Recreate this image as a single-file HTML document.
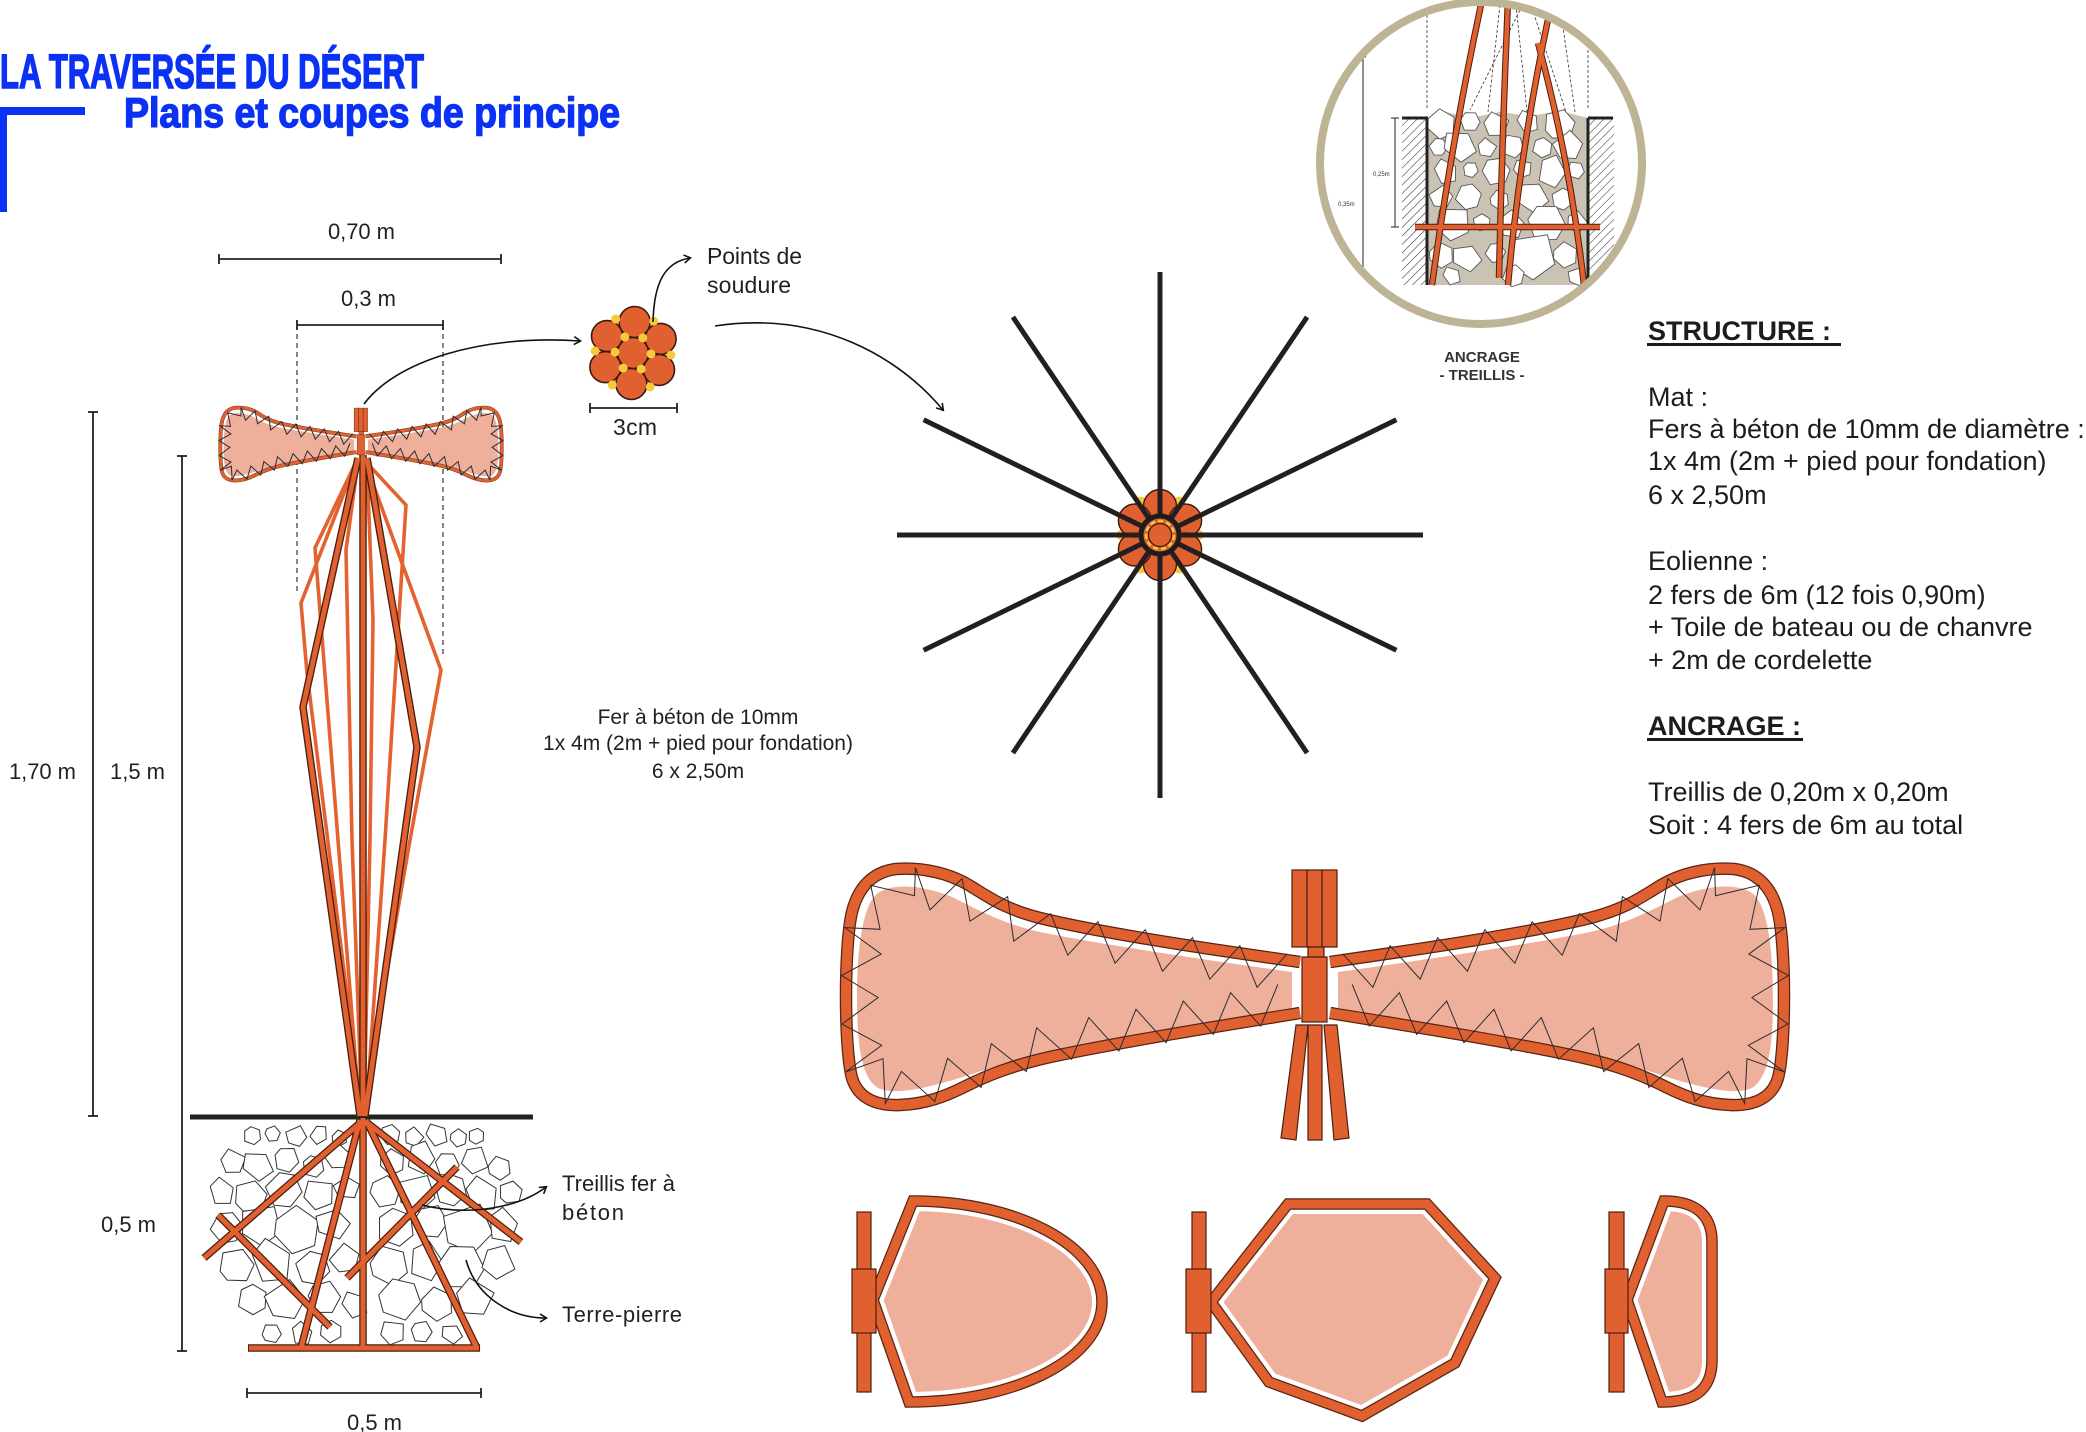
<!DOCTYPE html>
<html><head><meta charset="utf-8">
<style>
html,body{margin:0;padding:0;background:#fff;}
svg{display:block;}
text{font-family:"Liberation Sans",Arial,sans-serif;}
</style></head><body>
<svg width="2086" height="1432" viewBox="0 0 2086 1432" xmlns="http://www.w3.org/2000/svg">
<defs>
<marker id="ah" markerWidth="12" markerHeight="12" refX="7" refY="4.5" orient="auto" markerUnits="userSpaceOnUse">
<path d="M1,0.5 L7.5,4.5 L1,8.5" fill="none" stroke="#111" stroke-width="1.6"/>
</marker>
<pattern id="hatch" width="6" height="6" patternUnits="userSpaceOnUse" patternTransform="rotate(45)">
<line x1="0" y1="0" x2="0" y2="6" stroke="#333" stroke-width="1.1"/>
</pattern>
<clipPath id="cc"><circle cx="1481" cy="163" r="158"/></clipPath>
<path id="s1" d="M-9,-4 L-3,-10 L7,-8 L10,2 L4,9 L-7,7 Z" vector-effect="non-scaling-stroke"/>
<path id="s2" d="M-10,0 L-5,-9 L6,-7 L9,3 L2,10 L-8,6 Z" vector-effect="non-scaling-stroke"/>
<path id="s3" d="M-8,-8 L8,-9 L10,4 L0,10 L-9,3 Z" vector-effect="non-scaling-stroke"/>
<path id="s4" d="M-6,-10 L7,-6 L9,6 L-2,10 L-10,-1 Z" vector-effect="non-scaling-stroke"/>
</defs>
<rect width="2086" height="1432" fill="#fff"/>

<!-- TITLE -->
<text x="0" y="88" font-family="Liberation Sans Narrow, Liberation Sans, sans-serif" font-weight="bold" font-size="48" fill="#0b31f5" stroke="#0b31f5" stroke-width="1.6" textLength="424" lengthAdjust="spacingAndGlyphs">LA TRAVERSÉE DU DÉSERT</text>
<text x="124" y="127" font-family="Liberation Sans Narrow, Liberation Sans, sans-serif" font-weight="bold" font-size="42" fill="#0b31f5" stroke="#0b31f5" stroke-width="1.4" textLength="496" lengthAdjust="spacingAndGlyphs">Plans et coupes de principe</text>
<rect x="0" y="107" width="85" height="8" fill="#0b31f5"/>
<rect x="0" y="107" width="7" height="105" fill="#0b31f5"/>

<!-- DIMENSIONS -->
<g stroke="#222" stroke-width="1.8" fill="none">
<line x1="219" y1="259" x2="501" y2="259"/><line x1="219" y1="254" x2="219" y2="264"/><line x1="501" y1="254" x2="501" y2="264"/>
<line x1="297" y1="325" x2="443" y2="325"/><line x1="297" y1="320" x2="297" y2="330"/><line x1="443" y1="320" x2="443" y2="330"/>
<line x1="93" y1="412" x2="93" y2="1116"/><line x1="88" y1="412" x2="98" y2="412"/><line x1="88" y1="1116" x2="98" y2="1116"/>
<line x1="182" y1="456" x2="182" y2="1351"/><line x1="177" y1="456" x2="187" y2="456"/><line x1="177" y1="1351" x2="187" y2="1351"/>
<line x1="247" y1="1393" x2="481" y2="1393"/><line x1="247" y1="1388" x2="247" y2="1398"/><line x1="481" y1="1388" x2="481" y2="1398"/>
<line x1="590" y1="408" x2="677" y2="408"/><line x1="590" y1="403" x2="590" y2="413"/><line x1="677" y1="403" x2="677" y2="413"/>
</g>
<g stroke="#222" stroke-width="1.1" stroke-dasharray="5,4">
<line x1="297" y1="325" x2="297" y2="593"/>
<line x1="443" y1="325" x2="443" y2="657"/>
</g>
<g fill="#231f20" font-size="22">
<text x="328" y="239" textLength="67">0,70 m</text>
<text x="341" y="306" textLength="55">0,3 m</text>
<text x="9" y="779" textLength="67">1,70 m</text>
<text x="110" y="779" textLength="55">1,5 m</text>
<text x="101" y="1232" textLength="55">0,5 m</text>
<text x="347" y="1430" textLength="55">0,5 m</text>
<text x="613" y="435" font-size="23" textLength="44">3cm</text>
<text x="707" y="264" font-size="23" textLength="95">Points de</text>
<text x="707" y="293" font-size="23" textLength="84">soudure</text>
<text x="562" y="1191" textLength="113">Treillis fer à</text>
<text x="562" y="1220" textLength="62">béton</text>
<text x="562" y="1322" textLength="120">Terre-pierre</text>
</g>
<g fill="#231f20" font-size="21" text-anchor="middle">
<text x="698" y="724">Fer à béton de 10mm</text>
<text x="698" y="750">1x 4m (2m + pied pour fondation)</text>
<text x="698" y="778">6 x 2,50m</text>
</g>

<!-- BASE stones -->
<g fill="#fff" stroke="#333" stroke-width="1">
<use href="#s1" transform="translate(252,1136) rotate(10) scale(0.9)"/>
<use href="#s2" transform="translate(273,1134) rotate(40) scale(0.8)"/>
<use href="#s3" transform="translate(296,1137) rotate(-20) scale(1.0)"/>
<use href="#s4" transform="translate(319,1135) rotate(70) scale(0.9)"/>
<use href="#s2" transform="translate(340,1138) rotate(15) scale(0.8)"/>
<use href="#s1" transform="translate(390,1135) rotate(-30) scale(1.0)"/>
<use href="#s3" transform="translate(413,1137) rotate(50) scale(0.9)"/>
<use href="#s4" transform="translate(437,1135) rotate(0) scale(1.1)"/>
<use href="#s2" transform="translate(459,1138) rotate(25) scale(0.9)"/>
<use href="#s1" transform="translate(476,1136) rotate(80) scale(0.8)"/>
<use href="#s3" transform="translate(232,1162) rotate(30) scale(1.2)"/>
<use href="#s4" transform="translate(258,1166) rotate(-15) scale(1.5)"/>
<use href="#s2" transform="translate(287,1160) rotate(60) scale(1.3)"/>
<use href="#s1" transform="translate(313,1167) rotate(5) scale(1.1)"/>
<use href="#s3" transform="translate(338,1158) rotate(-40) scale(1.2)"/>
<use href="#s2" transform="translate(393,1162) rotate(20) scale(1.3)"/>
<use href="#s4" transform="translate(421,1158) rotate(45) scale(1.5)"/>
<use href="#s1" transform="translate(447,1165) rotate(-10) scale(1.2)"/>
<use href="#s3" transform="translate(474,1160) rotate(75) scale(1.3)"/>
<use href="#s2" transform="translate(500,1168) rotate(10) scale(1.2)"/>
<use href="#s4" transform="translate(222,1192) rotate(20) scale(1.3)"/>
<use href="#s2" transform="translate(251,1196) rotate(-25) scale(1.7)"/>
<use href="#s1" transform="translate(283,1190) rotate(55) scale(1.8)"/>
<use href="#s3" transform="translate(318,1195) rotate(10) scale(1.5)"/>
<use href="#s4" transform="translate(347,1188) rotate(-50) scale(1.2)"/>
<use href="#s2" transform="translate(386,1192) rotate(35) scale(1.6)"/>
<use href="#s3" transform="translate(416,1194) rotate(-10) scale(1.8)"/>
<use href="#s1" transform="translate(450,1190) rotate(65) scale(1.6)"/>
<use href="#s4" transform="translate(482,1195) rotate(15) scale(1.7)"/>
<use href="#s2" transform="translate(511,1192) rotate(-30) scale(1.2)"/>
<use href="#s1" transform="translate(226,1228) rotate(40) scale(1.6)"/>
<use href="#s3" transform="translate(260,1226) rotate(-5) scale(2.0)"/>
<use href="#s2" transform="translate(298,1230) rotate(25) scale(2.4)"/>
<use href="#s4" transform="translate(333,1224) rotate(-35) scale(1.6)"/>
<use href="#s1" transform="translate(395,1228) rotate(10) scale(1.9)"/>
<use href="#s2" transform="translate(432,1222) rotate(50) scale(1.7)"/>
<use href="#s3" transform="translate(467,1230) rotate(-15) scale(2.4)"/>
<use href="#s4" transform="translate(503,1226) rotate(30) scale(1.6)"/>
<use href="#s2" transform="translate(237,1265) rotate(-20) scale(1.8)"/>
<use href="#s4" transform="translate(272,1262) rotate(15) scale(2.1)"/>
<use href="#s1" transform="translate(312,1268) rotate(60) scale(1.7)"/>
<use href="#s3" transform="translate(345,1260) rotate(-45) scale(1.4)"/>
<use href="#s2" transform="translate(390,1265) rotate(5) scale(2.0)"/>
<use href="#s4" transform="translate(426,1262) rotate(40) scale(1.8)"/>
<use href="#s1" transform="translate(461,1268) rotate(-10) scale(2.3)"/>
<use href="#s3" transform="translate(497,1262) rotate(70) scale(1.6)"/>
<use href="#s1" transform="translate(252,1300) rotate(20) scale(1.5)"/>
<use href="#s3" transform="translate(285,1302) rotate(-30) scale(1.9)"/>
<use href="#s2" transform="translate(325,1298) rotate(45) scale(1.7)"/>
<use href="#s4" transform="translate(355,1305) rotate(0) scale(1.3)"/>
<use href="#s1" transform="translate(400,1300) rotate(-60) scale(2.1)"/>
<use href="#s2" transform="translate(438,1304) rotate(15) scale(1.7)"/>
<use href="#s3" transform="translate(473,1298) rotate(35) scale(1.8)"/>
<use href="#s2" transform="translate(272,1333) rotate(-10) scale(1.0)"/>
<use href="#s4" transform="translate(302,1334) rotate(25) scale(1.1)"/>
<use href="#s1" transform="translate(331,1332) rotate(-40) scale(1.1)"/>
<use href="#s3" transform="translate(392,1333) rotate(10) scale(1.2)"/>
<use href="#s2" transform="translate(422,1332) rotate(50) scale(1.1)"/>
<use href="#s4" transform="translate(452,1334) rotate(-20) scale(1.0)"/>
</g>
<!-- ground -->
<line x1="190" y1="1117" x2="533" y2="1117" stroke="#222" stroke-width="5"/>

<!-- BASE rods -->
<g fill="none" stroke-linecap="butt" stroke-linejoin="miter">
<g stroke="#4a1f10" stroke-width="7.5">
<path d="M363,1118 L363,1350"/><path d="M360,1120 L301,1348"/><path d="M366,1120 L477,1348"/>
<path d="M360,1123 L204,1258"/><path d="M366,1122 L521,1242"/>
<path d="M218,1215 L330,1327"/><path d="M457,1167 L347,1278"/>
<path d="M248,1348 L480,1348"/>
</g>
<g stroke="#e0602f" stroke-width="5">
<path d="M363,1118 L363,1350"/><path d="M360,1120 L301,1348"/><path d="M366,1120 L477,1348"/>
<path d="M360,1123 L204,1258"/><path d="M366,1122 L521,1242"/>
<path d="M218,1215 L330,1327"/><path d="M457,1167 L347,1278"/>
<path d="M249,1348 L479,1348"/>
</g>
</g>

<!-- MAST rods -->
<g fill="none" stroke-linejoin="miter">
<g stroke="#e4622f" stroke-width="3.6">
<path d="M356,462 L315,548 L338,840 L360,1116"/>
<path d="M353,470 L301,603 L307,673 L362,1116"/>
<path d="M358,462 L346,550 L352,840 L362,1116"/>
<path d="M366,462 L406,505 L385,840 L366,1116"/>
<path d="M368,470 L441,670 L410,840 L362,1116"/>
<path d="M367,465 L373,620 L370,840 L364,1116"/>
</g>
<g stroke="#4a1f10" stroke-width="7.5">
<path d="M363,455 L363,1116"/>
<path d="M358,458 L303,707 L360,1116"/>
<path d="M367,458 L417,747 L365,1116"/>
</g>
<g stroke="#e0602f" stroke-width="4.8">
<path d="M363,455 L363,1116"/>
<path d="M358,458 L303,707 L360,1116"/>
<path d="M367,458 L417,747 L365,1116"/>
</g>
</g>

<!-- BOWTIE (big) -->
<g id="bow">
 <g id="lobeL">
  <path d="M1292,972 C1220,962 1110,946 1040,932 C1000,923 975,908 952,897 C925,886 895,882 878,893 C862,905 857,950 857,1000 C857,1048 862,1078 878,1088 C895,1096 930,1088 975,1073 C1030,1056 1120,1040 1205,1024 C1245,1017 1272,1011 1292,1008 Z" fill="#eeb09b"/>
  <path d="M1300,962 C1230,952 1110,935 1040,918 C1005,909 990,898 972,887 C950,873 922,867 896,869 C872,872 858,888 852,912 C844,945 844,1048 852,1078 C858,1098 876,1106 900,1105 C926,1104 946,1096 964,1087 C986,1076 1010,1066 1050,1057 C1120,1042 1220,1026 1300,1013" fill="none" stroke="#5a2412" stroke-width="12.5"/>
  <path d="M1300,962 C1230,952 1110,935 1040,918 C1005,909 990,898 972,887 C950,873 922,867 896,869 C872,872 858,888 852,912 C844,945 844,1048 852,1078 C858,1098 876,1106 900,1105 C926,1104 946,1096 964,1087 C986,1076 1010,1066 1050,1057 C1120,1042 1220,1026 1300,1013" fill="none" stroke="#e0602f" stroke-width="10"/>
  <polyline fill="none" stroke="#2b2b33" stroke-width="1" vector-effect="non-scaling-stroke" points="1287.2,953.8 1257.1,987.3 1239.9,945.7 1209.8,979.2 1192.5,937.7 1162.5,971.2 1145.2,929.7 1115.1,963.2 1097.9,921.7 1067.8,955.2 1050.6,913.7 1013.7,941.2 1007.6,896.6 970,921.2 962.1,878.5 930,909.9 915.4,867.5 914.5,895.7 870.7,885.3 880.1,929.3 844.9,927.6 881.2,954.1 841.5,975.5 878.1,997.5 842,1024.1 881.7,1045.3 845.5,1072 883,1058.7 885.3,1103.6 901.4,1071.4 934.8,1101.5 947.6,1058.3 981.1,1087.4 991.3,1043.6 1026.4,1071.6 1036.6,1027.8 1071.6,1059.3 1088.7,1017.6 1118.9,1051 1136,1009.3 1166.1,1042.7 1183.3,1001 1213.4,1034.4 1230.6,992.7 1260.7,1026.1 1277.8,984.4"/>
 </g>
 <use href="#lobeL" transform="matrix(-1 0 0 1 2630 0)"/>
 <g fill="#e0602f" stroke="#4a1f10" stroke-width="1.2">
  <rect x="1292" y="870" width="15" height="77"/>
  <rect x="1307" y="870" width="15" height="77"/>
  <rect x="1322" y="870" width="15" height="77"/>
  <rect x="1308" y="947" width="16" height="10"/>
  <rect x="1302" y="957" width="25" height="65"/>
 </g>
</g>
<g fill="#e0602f" stroke="#4a1f10" stroke-width="1.2">
 <polygon points="1296,1025 1308,1025 1296,1140 1281,1138"/>
 <polygon points="1308,1025 1322,1025 1322,1140 1308,1140"/>
 <polygon points="1324,1025 1337,1025 1349,1138 1334,1140"/>
</g>
<use href="#bow" transform="translate(-33.5,140.1) scale(0.3,0.308)"/>

<!-- CLUSTER -->
<g fill="#e0602f" stroke="#3a1a10" stroke-width="1.6">
<circle cx="634.6" cy="322.0" r="15.5"/>
<circle cx="660.6" cy="338.9" r="15.5"/>
<circle cx="659.0" cy="369.9" r="15.5"/>
<circle cx="631.4" cy="384.0" r="15.5"/>
<circle cx="605.4" cy="367.1" r="15.5"/>
<circle cx="607.0" cy="336.1" r="15.5"/>
<circle cx="633" cy="353" r="15.5"/>
</g>
<g fill="#f7c93b">
<circle cx="642.8" cy="337.9" r="4.5"/><circle cx="653.7" cy="321.1" r="4.5"/>
<circle cx="651.0" cy="353.9" r="4.5"/><circle cx="670.9" cy="355.0" r="4.5"/>
<circle cx="641.2" cy="369.0" r="4.5"/><circle cx="650.3" cy="386.9" r="4.5"/>
<circle cx="623.2" cy="368.1" r="4.5"/><circle cx="612.3" cy="384.9" r="4.5"/>
<circle cx="615.0" cy="352.1" r="4.5"/><circle cx="595.1" cy="351.0" r="4.5"/>
<circle cx="624.8" cy="337.0" r="4.5"/><circle cx="615.7" cy="319.1" r="4.5"/>
</g>

<!-- ARROWS -->
<g fill="none" stroke="#111" stroke-width="1.6" marker-end="url(#ah)">
<path d="M364,404 C395,362 480,334 580,341"/>
<path d="M653,322 C654,282 665,262 690,258"/>
<path d="M715,326 C820,310 900,358 943,410"/>
<path d="M422,1205 C470,1217 520,1207 546,1187"/>
<path d="M466,1260 C476,1296 510,1318 546,1318"/>
</g>

<!-- STAR -->
<g fill="#f7c93b">
<circle cx="1179" cy="502.1" r="5.5"/><circle cx="1198" cy="535" r="5.5"/><circle cx="1179" cy="567.9" r="5.5"/>
<circle cx="1141" cy="567.9" r="5.5"/><circle cx="1122" cy="535" r="5.5"/><circle cx="1141" cy="502.1" r="5.5"/>
</g>
<g fill="#e0602f" stroke="#3a1a10" stroke-width="1.4">
<circle cx="1160" cy="506" r="16.5"/><circle cx="1185.1" cy="520.5" r="16.5"/><circle cx="1185.1" cy="549.5" r="16.5"/>
<circle cx="1160" cy="564" r="16.5"/><circle cx="1134.9" cy="549.5" r="16.5"/><circle cx="1134.9" cy="520.5" r="16.5"/>
</g>
<g stroke="#231f20" stroke-width="5">
<line x1="897" y1="535" x2="1423" y2="535"/>
<line x1="1160" y1="272" x2="1160" y2="798"/>
<line x1="923.6" y1="419.7" x2="1396.4" y2="650.3"/>
<line x1="1396.4" y1="419.7" x2="923.6" y2="650.3"/>
<line x1="1012.9" y1="317" x2="1307.1" y2="753"/>
<line x1="1307.1" y1="317" x2="1012.9" y2="753"/>
</g>
<circle cx="1160" cy="535" r="19" fill="#e0602f" stroke="#1c1c1c" stroke-width="5"/>
<circle cx="1160" cy="535" r="14" fill="none" stroke="#f5c842" stroke-width="2.5" stroke-dasharray="5,3"/>
<circle cx="1160" cy="535" r="11.5" fill="#e0602f" stroke="#3a1a10" stroke-width="1.2"/>

<!-- BLADES -->
<g stroke-linejoin="miter">
 <g fill="#eeb09b" stroke="#fff" stroke-width="20">
  <path d="M873,1300 L913,1201 C1017,1201 1102,1246 1102,1302 C1102,1358 1017,1402 909,1402 Z"/>
  <path d="M1211,1302 L1288,1204 L1427,1204 L1495,1278 L1455,1363 L1362,1416 L1269,1382 Z"/>
  <path d="M1627,1300 L1664,1201 C1692,1201 1712,1212 1712,1242 L1712,1360 C1712,1392 1692,1402 1662,1402 Z"/>
 </g>
 <g fill="none" stroke="#5a2412" stroke-width="11.5">
  <path d="M873,1300 L913,1201 C1017,1201 1102,1246 1102,1302 C1102,1358 1017,1402 909,1402 Z"/>
  <path d="M1211,1302 L1288,1204 L1427,1204 L1495,1278 L1455,1363 L1362,1416 L1269,1382 Z"/>
  <path d="M1627,1300 L1664,1201 C1692,1201 1712,1212 1712,1242 L1712,1360 C1712,1392 1692,1402 1662,1402 Z"/>
 </g>
 <g fill="none" stroke="#e0602f" stroke-width="9">
  <path d="M873,1300 L913,1201 C1017,1201 1102,1246 1102,1302 C1102,1358 1017,1402 909,1402 Z"/>
  <path d="M1211,1302 L1288,1204 L1427,1204 L1495,1278 L1455,1363 L1362,1416 L1269,1382 Z"/>
  <path d="M1627,1300 L1664,1201 C1692,1201 1712,1212 1712,1242 L1712,1360 C1712,1392 1692,1402 1662,1402 Z"/>
 </g>
 <g fill="#e0602f" stroke="#4a1f10" stroke-width="1.2">
  <rect x="857" y="1212" width="14" height="180"/><rect x="852" y="1269" width="24" height="64"/>
  <rect x="1192" y="1212" width="14" height="180"/><rect x="1186" y="1269" width="25" height="64"/>
  <rect x="1609" y="1212" width="15" height="180"/><rect x="1605" y="1269" width="23" height="64"/>
 </g>
</g>

<!-- ANCRAGE circle -->
<g clip-path="url(#cc)">
 <polygon points="1427,285 1427,124 1442,111 1470,118 1500,112 1530,116 1560,111 1588,118 1588,285" fill="#cac2b3"/>
 <g fill="#fff" stroke="#555" stroke-width="0.9">
  <use href="#s2" transform="translate(1442,124) rotate(20) scale(1.5)"/>
  <use href="#s1" transform="translate(1470,122) rotate(-10) scale(1.0)"/>
  <use href="#s3" transform="translate(1495,125) rotate(30) scale(1.2)"/>
  <use href="#s4" transform="translate(1528,122) rotate(5) scale(1.1)"/>
  <use href="#s2" transform="translate(1560,124) rotate(-25) scale(1.6)"/>
  <use href="#s1" transform="translate(1438,147) rotate(50) scale(0.9)"/>
  <use href="#s4" transform="translate(1460,146) rotate(-15) scale(1.6)"/>
  <use href="#s3" transform="translate(1486,148) rotate(40) scale(0.9)"/>
  <use href="#s2" transform="translate(1513,146) rotate(0) scale(1.2)"/>
  <use href="#s1" transform="translate(1542,148) rotate(25) scale(1.0)"/>
  <use href="#s3" transform="translate(1568,147) rotate(-35) scale(1.4)"/>
  <use href="#s4" transform="translate(1446,172) rotate(10) scale(1.2)"/>
  <use href="#s2" transform="translate(1471,170) rotate(60) scale(0.8)"/>
  <use href="#s1" transform="translate(1496,172) rotate(-20) scale(1.4)"/>
  <use href="#s3" transform="translate(1522,169) rotate(15) scale(0.9)"/>
  <use href="#s4" transform="translate(1552,172) rotate(45) scale(1.5)"/>
  <use href="#s2" transform="translate(1576,170) rotate(-5) scale(0.9)"/>
  <use href="#s3" transform="translate(1441,198) rotate(-30) scale(1.1)"/>
  <use href="#s1" transform="translate(1468,197) rotate(35) scale(1.3)"/>
  <use href="#s2" transform="translate(1500,200) rotate(10) scale(1.0)"/>
  <use href="#s4" transform="translate(1532,197) rotate(-20) scale(1.6)"/>
  <use href="#s1" transform="translate(1562,199) rotate(70) scale(1.1)"/>
  <use href="#s3" transform="translate(1452,224) rotate(5) scale(1.7)"/>
  <use href="#s2" transform="translate(1482,222) rotate(-40) scale(0.9)"/>
  <use href="#s4" transform="translate(1512,225) rotate(30) scale(1.3)"/>
  <use href="#s1" transform="translate(1546,224) rotate(-10) scale(1.9)"/>
  <use href="#s3" transform="translate(1576,222) rotate(55) scale(1.0)"/>
  <use href="#s2" transform="translate(1442,255) rotate(15) scale(1.3)"/>
  <use href="#s4" transform="translate(1467,258) rotate(-25) scale(1.4)"/>
  <use href="#s1" transform="translate(1495,253) rotate(40) scale(1.0)"/>
  <use href="#s3" transform="translate(1531,257) rotate(-5) scale(2.3)"/>
  <use href="#s2" transform="translate(1566,255) rotate(20) scale(1.3)"/>
  <use href="#s4" transform="translate(1452,276) rotate(0) scale(0.9)"/>
  <use href="#s1" transform="translate(1513,276) rotate(30) scale(1.1)"/>
  <use href="#s3" transform="translate(1577,277) rotate(-15) scale(0.9)"/>
 </g>
 <rect x="1402" y="118" width="25" height="167" fill="url(#hatch)"/>
 <rect x="1589" y="118" width="25" height="167" fill="url(#hatch)"/>
 <g stroke="#222" stroke-width="3">
  <line x1="1427" y1="118" x2="1427" y2="285"/><line x1="1588" y1="118" x2="1588" y2="285"/>
  <line x1="1402" y1="118" x2="1428" y2="118"/><line x1="1588" y1="118" x2="1613" y2="118"/>
 </g>
 <g stroke="#333" stroke-width="0.8" stroke-dasharray="3,2" fill="none">
  <line x1="1427" y1="15" x2="1427" y2="108"/><line x1="1588" y1="15" x2="1588" y2="108"/>
  <line x1="1500" y1="5" x2="1488" y2="112"/><line x1="1516" y1="5" x2="1527" y2="112"/>
  <line x1="1532" y1="8" x2="1566" y2="112"/><line x1="1562" y1="20" x2="1575" y2="112"/>
  <line x1="1520" y1="10" x2="1470" y2="110"/>
 </g>
 <g fill="none">
  <g stroke="#4a1f10" stroke-width="6.5">
   <path d="M1482,0 Q1452,140 1432,285"/><path d="M1508,0 Q1502,140 1499,278"/>
   <path d="M1550,10 Q1520,150 1508,285"/><path d="M1538,43 Q1570,160 1584,285"/>
   <path d="M1415,227 L1600,227"/>
  </g>
  <g stroke="#e0602f" stroke-width="4.5">
   <path d="M1482,0 Q1452,140 1432,285"/><path d="M1508,0 Q1502,140 1499,278"/>
   <path d="M1550,10 Q1520,150 1508,285"/><path d="M1538,43 Q1570,160 1584,285"/>
   <path d="M1415,227 L1600,227"/>
  </g>
 </g>
 <g stroke="#222" stroke-width="1">
  <line x1="1363" y1="57" x2="1363" y2="270"/><line x1="1360" y1="57" x2="1366" y2="57"/><line x1="1360" y1="270" x2="1366" y2="270"/>
  <line x1="1395" y1="118" x2="1395" y2="227"/><line x1="1391" y1="118" x2="1399" y2="118"/><line x1="1391" y1="227" x2="1399" y2="227"/>
 </g>
 <text x="1338" y="206" font-size="6" fill="#333">0,35m</text>
 <text x="1373" y="176" font-size="6" fill="#333">0,25m</text>
</g>
<circle cx="1481" cy="163" r="161" fill="none" stroke="#bdb395" stroke-width="8"/>
<g fill="#333" font-weight="bold" font-size="15" text-anchor="middle">
<text x="1482" y="362">ANCRAGE</text>
<text x="1482" y="380">- TREILLIS -</text>
</g>

<!-- RIGHT TEXT BLOCK -->
<g fill="#1c1c1c" font-size="27">
<text x="1648" y="340" font-weight="bold">STRUCTURE :</text>
<rect x="1647" y="343" width="194" height="3"/>
<text x="1648" y="406">Mat :</text>
<text x="1648" y="438">Fers à béton de 10mm de diamètre :</text>
<text x="1648" y="470">1x 4m (2m + pied pour fondation)</text>
<text x="1648" y="504">6 x 2,50m</text>
<text x="1648" y="570">Eolienne :</text>
<text x="1648" y="604">2 fers de 6m (12 fois 0,90m)</text>
<text x="1648" y="636">+ Toile de bateau ou de chanvre</text>
<text x="1648" y="669">+ 2m de cordelette</text>
<text x="1648" y="735" font-weight="bold">ANCRAGE :</text>
<rect x="1647" y="738" width="156" height="3"/>
<text x="1648" y="801">Treillis de 0,20m x 0,20m</text>
<text x="1648" y="834">Soit : 4 fers de 6m au total</text>
</g>
</svg>
</body></html>
